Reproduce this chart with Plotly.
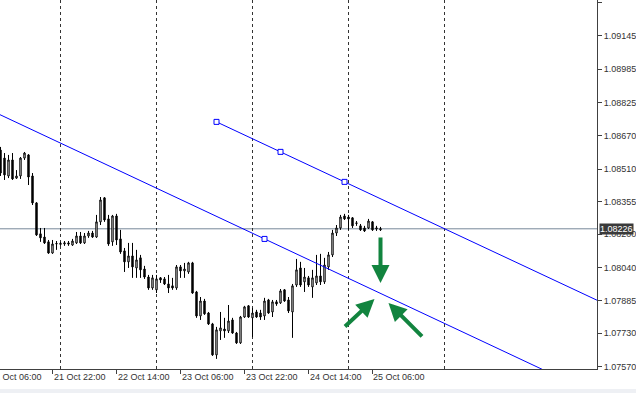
import pandas as pd
import plotly.graph_objects as go

# ---------------- data (EURUSD H1) ----------------
times = pd.date_range('2019-10-21 09:00', periods=96, freq='h')

opens = [1.08600, 1.08562, 1.08477, 1.08553, 1.08467, 1.08477, 1.08562, 1.08577, 1.08477, 1.08349,
         1.08202, 1.08187, 1.08164, 1.08111, 1.08154, 1.08152, 1.08154, 1.08159, 1.08149, 1.08159,
         1.08192, 1.08159, 1.08192, 1.08206, 1.08187, 1.08259, 1.08373, 1.08273, 1.08164, 1.08287,
         1.08178, 1.08121, 1.08069, 1.08097, 1.08040, 1.08088, 1.08035, 1.07997, 1.07945, 1.07936,
         1.07993, 1.07988, 1.07964, 1.07955, 1.07945, 1.08045, 1.08026, 1.08021, 1.08064, 1.07926,
         1.07812, 1.07883, 1.07826, 1.07774, 1.07627, 1.07741, 1.07750, 1.07741, 1.07793, 1.07731,
         1.07684, 1.07807, 1.07860, 1.07803, 1.07831, 1.07826, 1.07812, 1.07888, 1.07831, 1.07879,
         1.07874, 1.07936, 1.07888, 1.07831, 1.07959, 1.08040, 1.07974, 1.07993, 1.07950, 1.07969,
         1.08002, 1.07974, 1.08045, 1.08102, 1.08206, 1.08230, 1.08287, 1.08282, 1.08278, 1.08254,
         1.08240, 1.08230, 1.08230, 1.08259, 1.08225, 1.08221]
highs = [1.08615, 1.08586, 1.08577, 1.08586, 1.08505, 1.08567, 1.08591, 1.08581, 1.08491, 1.08353,
         1.08230, 1.08230, 1.08173, 1.08173, 1.08168, 1.08164, 1.08168, 1.08168, 1.08178, 1.08211,
         1.08211, 1.08206, 1.08216, 1.08216, 1.08292, 1.08377, 1.08377, 1.08292, 1.08292, 1.08297,
         1.08221, 1.08135, 1.08159, 1.08159, 1.08126, 1.08102, 1.08050, 1.08007, 1.08007, 1.08007,
         1.07997, 1.07997, 1.08007, 1.07993, 1.08054, 1.08054, 1.08064, 1.08069, 1.08069, 1.07931,
         1.07902, 1.07893, 1.07831, 1.07779, 1.07760, 1.07831, 1.07803, 1.07864, 1.07803, 1.07736,
         1.07812, 1.07860, 1.07864, 1.07850, 1.07841, 1.07841, 1.07898, 1.07893, 1.07888, 1.07888,
         1.07940, 1.07940, 1.07902, 1.07964, 1.08083, 1.08069, 1.08040, 1.08002, 1.08031, 1.08102,
         1.08107, 1.08088, 1.08116, 1.08221, 1.08244, 1.08292, 1.08297, 1.08292, 1.08282, 1.08263,
         1.08249, 1.08240, 1.08273, 1.08263, 1.08240, 1.08235]
lows = [1.08477, 1.08458, 1.08467, 1.08458, 1.08463, 1.08463, 1.08553, 1.08434, 1.08339, 1.08192,
        1.08164, 1.08154, 1.08107, 1.08107, 1.08126, 1.08145, 1.08145, 1.08145, 1.08145, 1.08154,
        1.08154, 1.08154, 1.08183, 1.08183, 1.08183, 1.08244, 1.08259, 1.08145, 1.08145, 1.08149,
        1.08107, 1.08021, 1.08040, 1.07993, 1.07993, 1.07993, 1.07988, 1.07936, 1.07936, 1.07921,
        1.07969, 1.07959, 1.07921, 1.07936, 1.07936, 1.07993, 1.07993, 1.08012, 1.07917, 1.07803,
        1.07793, 1.07817, 1.07769, 1.07622, 1.07608, 1.07698, 1.07708, 1.07731, 1.07727, 1.07679,
        1.07679, 1.07803, 1.07803, 1.07712, 1.07803, 1.07793, 1.07793, 1.07822, 1.07807, 1.07860,
        1.07869, 1.07879, 1.07826, 1.07708, 1.07950, 1.07950, 1.07926, 1.07950, 1.07898, 1.07959,
        1.07959, 1.07964, 1.08031, 1.08092, 1.08192, 1.08221, 1.08268, 1.08221, 1.08230, 1.08240,
        1.08216, 1.08211, 1.08225, 1.08216, 1.08216, 1.08216]
closes = [1.08491, 1.08482, 1.08553, 1.08463, 1.08477, 1.08562, 1.08586, 1.08472, 1.08349, 1.08197,
          1.08183, 1.08159, 1.08111, 1.08154, 1.08156, 1.08157, 1.08159, 1.08154, 1.08168, 1.08192,
          1.08159, 1.08192, 1.08206, 1.08187, 1.08259, 1.08363, 1.08268, 1.08154, 1.08287, 1.08173,
          1.08116, 1.08069, 1.08097, 1.08045, 1.08078, 1.08031, 1.07997, 1.07945, 1.07993, 1.07988,
          1.07983, 1.07964, 1.07945, 1.07945, 1.08045, 1.08026, 1.08035, 1.08064, 1.07921, 1.07812,
          1.07883, 1.07822, 1.07774, 1.07627, 1.07746, 1.07755, 1.07741, 1.07788, 1.07731, 1.07684,
          1.07807, 1.07855, 1.07807, 1.07826, 1.07807, 1.07807, 1.07883, 1.07826, 1.07879, 1.07869,
          1.07931, 1.07883, 1.07836, 1.07955, 1.08031, 1.07959, 1.07997, 1.07959, 1.07993, 1.08002,
          1.07974, 1.08054, 1.08102, 1.08206, 1.08230, 1.08282, 1.08273, 1.08273, 1.08240, 1.08252,
          1.08221, 1.08216, 1.08263, 1.08221, 1.08230, 1.08226]

price_ticks = [1.07570, 1.07730, 1.07885, 1.08040, 1.08200, 1.08355,
               1.08510, 1.08670, 1.08825, 1.08985, 1.09145, 1.09300]
price_range = [1.07560, 1.09313]
time_range = ['2019-10-21 08:52:30', '2019-10-27 14:07:30']

time_labels = ['2019-10-21 06:00', '2019-10-21 22:00', '2019-10-22 14:00', '2019-10-23 06:00',
               '2019-10-23 22:00', '2019-10-24 14:00', '2019-10-25 06:00']
day_lines = ['2019-10-22', '2019-10-23', '2019-10-24', '2019-10-25', '2019-10-26']

# channel trend lines (anchor points: time, price)
upper_t = ['2019-10-23 15:00', '2019-10-24 23:00']
upper_p = [1.08734, 1.08449]
lower_t = ['2019-10-21 09:00', '2019-10-24 03:00']
lower_p = [1.08767, 1.08178]

# green arrows (tail -> tip)
arrows = [
    (('2019-10-25 08:00', 1.08192), ('2019-10-25 08:00', 1.07969)),
    (('2019-10-24 22:45', 1.07755), ('2019-10-25 06:30', 1.07893)),
    (('2019-10-25 18:45', 1.07708), ('2019-10-25 10:00', 1.07874)),
]

FONT = 'Liberation Sans'
AX = '#404040'
TXT = '#333333'


def hours(a, b):
    return (pd.Timestamp(b) - pd.Timestamp(a)) / pd.Timedelta(hours=1)


def line_through(ts, ps, t_from, t_to):
    slope = (ps[1] - ps[0]) / hours(ts[0], ts[1])
    xs = [pd.Timestamp(t_from), pd.Timestamp(t_to)]
    ys = [ps[0] + slope * hours(ts[0], t) for t in xs]
    return xs, ys, slope


fig = go.Figure()

fig.add_trace(go.Candlestick(
    x=times, open=opens, high=highs, low=lows, close=closes,
    increasing=dict(line=dict(color='black', width=1), fillcolor='white'),
    decreasing=dict(line=dict(color='black', width=1), fillcolor='black'),
    whiskerwidth=0, hoverinfo='skip', showlegend=False))

# upper channel line (ray to the right)
ux, uy, us = line_through(upper_t, upper_p, upper_t[0], '2019-10-28 06:00')
fig.add_trace(go.Scatter(x=ux, y=uy, mode='lines', line=dict(color='#0000ff', width=1),
                         hoverinfo='skip', showlegend=False))
mid_t = pd.Timestamp(upper_t[0]) + (pd.Timestamp(upper_t[1]) - pd.Timestamp(upper_t[0])) / 2
mid_p = upper_p[0] + us * hours(upper_t[0], mid_t)
fig.add_trace(go.Scatter(x=[pd.Timestamp(upper_t[0]), mid_t, pd.Timestamp(upper_t[1])],
                         y=[upper_p[0], mid_p, upper_p[1]], mode='markers',
                         marker=dict(symbol='square', size=5, color='white',
                                     line=dict(color='#0000ff', width=1)),
                         hoverinfo='skip', showlegend=False))

# lower channel line
lx, ly, ls = line_through(lower_t, lower_p, '2019-10-21 00:00', '2019-10-28 06:00')
fig.add_trace(go.Scatter(x=lx, y=ly, mode='lines', line=dict(color='#0000ff', width=1),
                         hoverinfo='skip', showlegend=False))
fig.add_trace(go.Scatter(x=[pd.Timestamp(lower_t[1])], y=[lower_p[1]], mode='markers',
                         marker=dict(symbol='square', size=5, color='white',
                                     line=dict(color='#0000ff', width=1)),
                         hoverinfo='skip', showlegend=False))

last_price = closes[-1]

shapes = [
    dict(type='line', xref='paper', x0=0, x1=1, yref='y', y0=last_price, y1=last_price,
         line=dict(color='#778899', width=1), layer='below'),
    dict(type='rect', xref='paper', x0=-0.01, x1=1.1, yref='paper',
         y0=-24 / 369, y1=-20 / 369, fillcolor='#eef0f4', line=dict(width=0)),
]

annotations = []
for (t0, p0), (t1, p1) in arrows:
    annotations.append(dict(x=t1, y=p1, ax=t0, ay=p0, xref='x', yref='y', axref='x', ayref='y',
                            text='', showarrow=True, arrowhead=2, arrowsize=0.9,
                            arrowwidth=4, arrowcolor='#12843f', standoff=0))

annotations.append(dict(x=1, xref='paper', xanchor='left', xshift=2, y=last_price, yref='y',
                        text=f'{last_price:.5f}', showarrow=False, bgcolor='#3a3a3a',
                        font=dict(family=FONT, size=9, color='white'), borderpad=0))

# time labels, left-aligned at their tick marks (MetaTrader style)
span = hours(time_range[0], time_range[1])
for t in time_labels:
    ts = pd.Timestamp(t)
    annotations.append(dict(x=hours(time_range[0], ts) / span, xref='paper', xanchor='left',
                            xshift=-1, y=0, yref='paper', yanchor='top', yshift=-1,
                            text=ts.strftime('%d %b %H:%M'), showarrow=False,
                            font=dict(family=FONT, size=9, color=TXT)))

fig.update_layout(
    width=636, height=393,
    margin=dict(l=0, r=39, t=0, b=24),
    paper_bgcolor='white', plot_bgcolor='white',
    showlegend=False, boxgap=0.5,
    shapes=shapes, annotations=annotations,
    xaxis=dict(type='date', range=time_range, showline=True, linecolor=AX, linewidth=1,
               ticks='outside', ticklen=4, tickcolor=AX,
               tickmode='array', tickvals=time_labels, showticklabels=False,
               showgrid=False, zeroline=False,
               minor=dict(tickmode='array', tickvals=day_lines, showgrid=True,
                          gridcolor='#333333', griddash='3px,3px', gridwidth=1, ticks=''),
               rangeslider=dict(visible=False)),
    yaxis=dict(side='right', range=price_range, showline=True, linecolor=AX, linewidth=1,
               ticks='outside', ticklen=4, tickcolor=AX,
               tickvals=price_ticks, ticktext=[f'{v:.5f}' for v in price_ticks],
               tickfont=dict(family=FONT, size=9, color=TXT),
               showgrid=False, zeroline=False),
)

fig.write_html('out.html')
